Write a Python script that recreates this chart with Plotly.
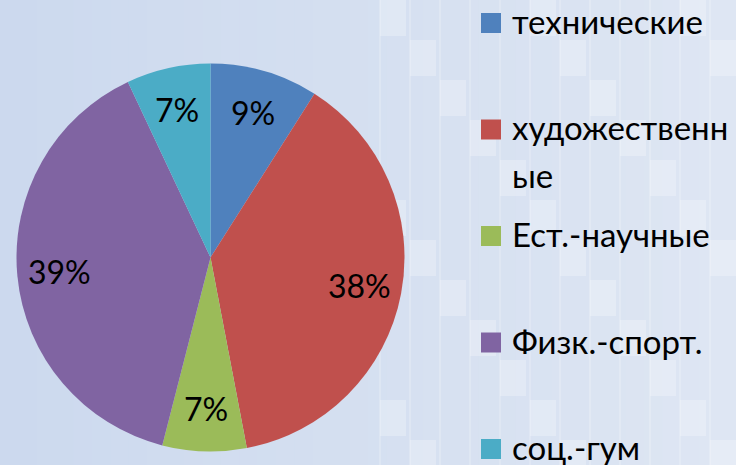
import math
import plotly.graph_objects as go

# ---- data ----
categories = ["технические", "художественные", "Ест.-научные", "Физк.-спорт.", "соц.-гум"]
values = [9, 38, 7, 39, 7]
colors = ["#4F81BD", "#C0504D", "#9BBB59", "#8064A2", "#4BACC6"]

W, H = 736, 465
FONT = "Lato"

# pie geometry (pixels)
CX, CY, R = 210.5, 257.5, 194
LABEL_R = 0.78

fig = go.Figure()
fig.add_trace(go.Pie(
    labels=categories,
    values=values,
    sort=False,
    direction="clockwise",
    rotation=0,
    marker=dict(colors=colors, line=dict(width=0)),
    textinfo="none",
    textposition="none",
    domain=dict(x=[(CX - R) / W, (CX + R) / W], y=[1 - (CY + R) / H, 1 - (CY - R) / H]),
    showlegend=False,
    hoverinfo="label+percent",
))

shapes = []
annotations = []

# percent labels placed at each slice's mid-angle (computed from the values)
total = sum(values)
cum = 0
for v in values:
    mid = (cum + v / 2) / total * 2 * math.pi
    cum += v
    px = CX + LABEL_R * R * math.sin(mid)
    py = CY - LABEL_R * R * math.cos(mid)
    annotations.append(dict(text="%d%%" % round(v / total * 100), xref="paper", yref="paper",
                            x=px / W, y=1 - py / H, xanchor="center", yanchor="middle",
                            showarrow=False, font=dict(family=FONT, size=32, color="#000000")))

# background gradient (left darker blue -> right lighter)
n = 40
c0 = (204, 217, 238)
c1 = (222, 230, 243)
for i in range(n):
    t = i / (n - 1)
    c = tuple(int(round(a + (b - a) * t)) for a, b in zip(c0, c1))
    shapes.append(dict(type="rect", xref="paper", yref="paper",
                       x0=i / n, x1=(i + 1) / n + 0.002, y0=0, y1=1,
                       fillcolor="rgb(%d,%d,%d)" % c, line=dict(width=0), layer="below"))
# faint tiled squares on the right
for gx in range(12):
    for gy in range(12):
        x0 = 380 + gx * 30
        y0 = gy * 40
        if (gx * 7 + gy * 3) % 5 == 0:
            shapes.append(dict(type="rect", xref="paper", yref="paper",
                               x0=x0 / W, x1=(x0 + 26) / W,
                               y0=1 - (y0 + 36) / H, y1=1 - y0 / H,
                               fillcolor="rgba(255,255,255,0.25)", line=dict(width=0), layer="below"))
for gx in range(13):
    x = 380 + gx * 30
    shapes.append(dict(type="line", xref="paper", yref="paper", x0=x / W, x1=x / W, y0=0, y1=1,
                       line=dict(color="rgba(255,255,255,0.2)", width=2), layer="below"))

# legend (manual, to reproduce large spacing and wrapping)
leg_y0 = 23
leg_step = 106.5
wrap = 12
for i, (lab, col) in enumerate(zip(categories, colors)):
    yc = leg_y0 + i * leg_step
    shapes.append(dict(type="rect", xref="paper", yref="paper",
                       x0=481 / W, x1=501 / W, y0=1 - (yc + 10) / H, y1=1 - (yc - 10) / H,
                       fillcolor=col, line=dict(width=0)))
    lines = [lab[j:j + wrap] for j in range(0, len(lab), wrap)] if len(lab) > 13 else [lab]
    for k, ln in enumerate(lines):
        annotations.append(dict(text=ln, xref="paper", yref="paper",
                                x=510 / W, y=1 - (yc + k * 47 - 2) / H,
                                xanchor="left", yanchor="middle", showarrow=False,
                                font=dict(family=FONT, size=33, color="#000000")))

fig.update_layout(
    width=W, height=H,
    margin=dict(l=0, r=0, t=0, b=0),
    paper_bgcolor="#D3DEF0",
    plot_bgcolor="rgba(0,0,0,0)",
    shapes=shapes,
    annotations=annotations,
)

fig.write_html("out.html", config={"displayModeBar": False},
               post_script="document.body.style.margin='0px';document.body.style.padding='0px';")
